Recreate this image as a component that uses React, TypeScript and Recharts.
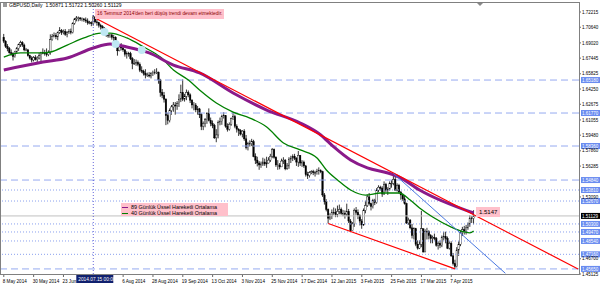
import React from 'react';
import {
    ComposedChart,
    Bar,
    Line,
    XAxis,
    YAxis,
    ReferenceLine,
    ReferenceDot,
} from 'recharts';

// daily GBPUSD bars (open = previous close)
const firstOpen = 1.6960;
const closes = [
    1.6920, 1.6865, 1.6845, 1.6800, 1.6790, 1.6760, 1.6810, 1.6845, 1.6885, 1.6905,
    1.6880, 1.6830, 1.6830, 1.6770, 1.6745, 1.6725, 1.6750, 1.6730, 1.6745, 1.6770,
    1.6805, 1.6795, 1.6790, 1.6780, 1.6800, 1.6935, 1.6970, 1.6980, 1.6965, 1.7010,
    1.7030, 1.7010, 1.7020, 1.6990, 1.7010, 1.7020, 1.7010, 1.7105, 1.7150, 1.7160,
    1.7160, 1.7150, 1.7150, 1.7140, 1.7130, 1.7110, 1.7110, 1.7100, 1.7170, 1.7120,
    1.7110, 1.7085, 1.7070, 1.7055, 1.7030, 1.6980, 1.6980, 1.6985, 1.6960, 1.6960,
    1.6880, 1.6820, 1.6860, 1.6850, 1.6830, 1.6785, 1.6790, 1.6790, 1.6740, 1.6690,
    1.6690, 1.6700, 1.6680, 1.6620, 1.6610, 1.6590, 1.6570, 1.6570, 1.6560, 1.6585,
    1.6590, 1.6600, 1.6600, 1.6520, 1.6390, 1.6360, 1.6320, 1.6150, 1.6100, 1.6200,
    1.6240, 1.6260, 1.6250, 1.6275, 1.6320, 1.6390, 1.6320, 1.6350, 1.6390, 1.6365,
    1.6310, 1.6260, 1.6260, 1.6210, 1.6220, 1.6160, 1.6040, 1.6070, 1.6110, 1.6170,
    1.6100, 1.6070, 1.6050, 1.5920, 1.5950, 1.6080, 1.6090, 1.6140, 1.6150, 1.6040,
    1.6010, 1.6060, 1.6120, 1.6140, 1.6040, 1.6010, 1.5995, 1.5960, 1.5990, 1.5910,
    1.5820, 1.5860, 1.5860, 1.5880, 1.5730, 1.5690, 1.5660, 1.5640, 1.5650, 1.5670,
    1.5650, 1.5660, 1.5690, 1.5730, 1.5800, 1.5720, 1.5640, 1.5640, 1.5620, 1.5680,
    1.5690, 1.5600, 1.5630, 1.5700, 1.5710, 1.5730, 1.5710, 1.5670, 1.5740, 1.5660,
    1.5670, 1.5630, 1.5540, 1.5530, 1.5560, 1.5570, 1.5560, 1.5560, 1.5570, 1.5580,
    1.5570, 1.5330, 1.5260, 1.5180, 1.5090, 1.5110, 1.5150, 1.5150, 1.5130, 1.5160,
    1.5180, 1.5140, 1.5140, 1.5130, 1.5160, 1.5060, 1.4960, 1.5030, 1.5170, 1.5150,
    1.5120, 1.5060, 1.5020, 1.5170, 1.5220, 1.5310, 1.5240, 1.5210, 1.5270, 1.5250,
    1.5380, 1.5410, 1.5400, 1.5340, 1.5440, 1.5380, 1.5390, 1.5450, 1.5450, 1.5490,
    1.5380, 1.5430, 1.5360, 1.5330, 1.5290, 1.5240, 1.5040, 1.5070, 1.4990, 1.4910,
    1.4980, 1.4820, 1.4780, 1.4820, 1.4980, 1.4740, 1.4950, 1.4950, 1.4910, 1.4880,
    1.4890, 1.4880, 1.4810, 1.4830, 1.4810, 1.4890, 1.4900, 1.4880, 1.4780, 1.4830,
    1.4700, 1.4620, 1.4590, 1.4760, 1.4820, 1.4940, 1.4970, 1.4950, 1.4990, 1.5030,
    1.5090, 1.5087, 1.5113,
];
const highs = [
    1.6995, 1.6930, 1.6890, 1.6860, 1.6835, 1.6805, 1.6820, 1.6860, 1.6895, 1.6925,
    1.6920, 1.6895, 1.6850, 1.6840, 1.6780, 1.6765, 1.6765, 1.6775, 1.6765, 1.6800,
    1.6810, 1.6845, 1.6830, 1.6845, 1.6825, 1.6990, 1.6995, 1.7010, 1.7005, 1.7020,
    1.7065, 1.7045, 1.7040, 1.7045, 1.7025, 1.7045, 1.7050, 1.7115, 1.7160, 1.7180,
    1.7175, 1.7170, 1.7165, 1.7160, 1.7165, 1.7155, 1.7130, 1.7125, 1.7190, 1.7180,
    1.7145, 1.7120, 1.7100, 1.7085, 1.7065, 1.7040, 1.7000, 1.6995, 1.6995, 1.6985,
    1.6970, 1.6885, 1.6870, 1.6900, 1.6870, 1.6840, 1.6815, 1.6810, 1.6810, 1.6755,
    1.6735, 1.6730, 1.6720, 1.6700, 1.6660, 1.6625, 1.6630, 1.6595, 1.6600, 1.6600,
    1.6615, 1.6630, 1.6640, 1.6605, 1.6530, 1.6425, 1.6395, 1.6330, 1.6180, 1.6225,
    1.6260, 1.6290, 1.6290, 1.6300, 1.6370, 1.6470, 1.6525, 1.6375, 1.6420, 1.6410,
    1.6380, 1.6320, 1.6290, 1.6280, 1.6250, 1.6230, 1.6175, 1.6090, 1.6125, 1.6185,
    1.6225, 1.6130, 1.6100, 1.6065, 1.6010, 1.6100, 1.6130, 1.6160, 1.6185, 1.6155,
    1.6070, 1.6080, 1.6130, 1.6185, 1.6160, 1.6060, 1.6020, 1.6010, 1.6000, 1.6010,
    1.5950, 1.5880, 1.5895, 1.5910, 1.5900, 1.5760, 1.5725, 1.5680, 1.5675, 1.5715,
    1.5705, 1.5725, 1.5720, 1.5755, 1.5815, 1.5810, 1.5730, 1.5690, 1.5660, 1.5705,
    1.5720, 1.5700, 1.5660, 1.5720, 1.5735, 1.5750, 1.5755, 1.5720, 1.5785, 1.5740,
    1.5690, 1.5685, 1.5640, 1.5570, 1.5575, 1.5585, 1.5590, 1.5580, 1.5600, 1.5615,
    1.5595, 1.5580, 1.5350, 1.5285, 1.5190, 1.5140, 1.5180, 1.5200, 1.5190, 1.5220,
    1.5230, 1.5200, 1.5175, 1.5170, 1.5240, 1.5185, 1.5080, 1.5050, 1.5190, 1.5205,
    1.5180, 1.5130, 1.5080, 1.5190, 1.5270, 1.5335, 1.5350, 1.5250, 1.5290, 1.5290,
    1.5400, 1.5430, 1.5425, 1.5420, 1.5470, 1.5455, 1.5410, 1.5470, 1.5485, 1.5552,
    1.5525, 1.5450, 1.5445, 1.5370, 1.5345, 1.5320, 1.5250, 1.5095, 1.5080, 1.5030,
    1.4995, 1.4990, 1.4860, 1.4860, 1.5165, 1.4980, 1.4975, 1.4990, 1.4965, 1.4925,
    1.4910, 1.4930, 1.4895, 1.4850, 1.4860, 1.4910, 1.4950, 1.4950, 1.4900, 1.4850,
    1.4850, 1.4730, 1.4660, 1.4790, 1.4850, 1.4960, 1.5000, 1.5010, 1.5020, 1.5045,
    1.5120, 1.5110, 1.5172,
];
const lows = [
    1.6900, 1.6850, 1.6815, 1.6790, 1.6770, 1.6720, 1.6750, 1.6795, 1.6820, 1.6860,
    1.6860, 1.6815, 1.6815, 1.6760, 1.6730, 1.6700, 1.6710, 1.6720, 1.6705, 1.6730,
    1.6690, 1.6785, 1.6770, 1.6760, 1.6765, 1.6780, 1.6925, 1.6960, 1.6940, 1.6930,
    1.6995, 1.6985, 1.6990, 1.6975, 1.6960, 1.6995, 1.6990, 1.7000, 1.7090, 1.7125,
    1.7125, 1.7130, 1.7125, 1.7120, 1.7110, 1.7090, 1.7095, 1.7075, 1.7080, 1.7105,
    1.7080, 1.7060, 1.7040, 1.7010, 1.7010, 1.6965, 1.6955, 1.6955, 1.6935, 1.6915,
    1.6865, 1.6770, 1.6815, 1.6825, 1.6810, 1.6760, 1.6740, 1.6760, 1.6725, 1.6630,
    1.6675, 1.6665, 1.6660, 1.6600, 1.6590, 1.6565, 1.6535, 1.6550, 1.6545, 1.6535,
    1.6560, 1.6575, 1.6580, 1.6480, 1.6345, 1.6330, 1.6285, 1.6052, 1.6060, 1.6080,
    1.6160, 1.6190, 1.6160, 1.6210, 1.6240, 1.6290, 1.6300, 1.6295, 1.6310, 1.6340,
    1.6280, 1.6225, 1.6205, 1.6185, 1.6160, 1.6125, 1.6000, 1.6000, 1.6030, 1.6065,
    1.6090, 1.6040, 1.6020, 1.5910, 1.5875, 1.5915, 1.6050, 1.6055, 1.6120, 1.6025,
    1.5985, 1.5995, 1.6045, 1.6105, 1.6020, 1.5975, 1.5940, 1.5945, 1.5925, 1.5890,
    1.5800, 1.5790, 1.5830, 1.5835, 1.5720, 1.5650, 1.5625, 1.5590, 1.5610, 1.5630,
    1.5630, 1.5610, 1.5655, 1.5670, 1.5710, 1.5705, 1.5620, 1.5590, 1.5595, 1.5620,
    1.5650, 1.5585, 1.5590, 1.5600, 1.5660, 1.5680, 1.5690, 1.5630, 1.5620, 1.5630,
    1.5620, 1.5610, 1.5520, 1.5495, 1.5510, 1.5545, 1.5535, 1.5520, 1.5540, 1.5540,
    1.5555, 1.5310, 1.5230, 1.5160, 1.5035, 1.5070, 1.5080, 1.5125, 1.5100, 1.5100,
    1.5130, 1.5125, 1.5110, 1.5085, 1.5110, 1.5040, 1.4950, 1.4960, 1.5000, 1.5125,
    1.5080, 1.5015, 1.4980, 1.5010, 1.5140, 1.5205, 1.5220, 1.5170, 1.5190, 1.5225,
    1.5240, 1.5360, 1.5375, 1.5310, 1.5330, 1.5360, 1.5330, 1.5375, 1.5405, 1.5430,
    1.5370, 1.5365, 1.5345, 1.5280, 1.5270, 1.5230, 1.5030, 1.5020, 1.4975, 1.4880,
    1.4870, 1.4800, 1.4765, 1.4770, 1.4790, 1.4735, 1.4740, 1.4870, 1.4870, 1.4830,
    1.4830, 1.4860, 1.4795, 1.4765, 1.4780, 1.4790, 1.4860, 1.4830, 1.4770, 1.4765,
    1.4690, 1.4600, 1.4566, 1.4580, 1.4700, 1.4800, 1.4905, 1.4920, 1.4920, 1.4970,
    1.5000, 1.5040, 1.5026,
];

// moving averages, read at a few bars
const ema89Bars = [0, 21, 34, 48, 57, 66, 78, 91, 105, 123, 141, 159, 170, 177, 186, 195, 206, 212, 223, 252];
const ema89Vals = [1.6622, 1.6704, 1.6746, 1.6849, 1.6891, 1.6860, 1.6798, 1.6673, 1.6591, 1.6384, 1.6208, 1.6074, 1.5950, 1.5826, 1.5691, 1.5609, 1.5557, 1.5515, 1.5381, 1.5143];
const ema40Bars = [0, 9, 21, 25, 34, 43, 52, 57, 66, 75, 84, 91, 99, 105, 114, 123, 132, 141, 150, 159, 168, 173, 179, 186, 194, 202, 212, 218, 223, 230, 240, 247, 250, 252];
const ema40Vals = [1.6756, 1.6798, 1.6798, 1.6808, 1.6880, 1.6953, 1.7004, 1.7004, 1.6953, 1.6860, 1.6756, 1.6622, 1.6518, 1.6415, 1.6281, 1.6187, 1.6125, 1.6032, 1.5867, 1.5795, 1.5712, 1.5588, 1.5484, 1.5381, 1.5329, 1.5350, 1.5350, 1.5277, 1.5195, 1.5102, 1.4998, 1.4947, 1.4937, 1.4957];

// axis ("23 Jun" is cut off by the date tag in the picture)
const xTickBars = [0, 16, 32, 64, 80, 96, 112, 128, 144, 160, 176, 192, 208, 224, 240];
const xTickLabels = ['8 May 2014', '30 May 2014', '23 Jun', '6 Aug 2014', '28 Aug 2014', '19 Sep 2014', '13 Oct 2014', '3 Nov 2014', '25 Nov 2014', '17 Dec 2014', '12 Jan 2015', '3 Feb 2015', '25 Feb 2015', '17 Mar 2015', '7 Apr 2015'];
// price scale (the ones hidden under level tags are left out)
const yTicks = [1.72215, 1.70640, 1.69020, 1.67445, 1.65825, 1.64250, 1.62675, 1.61055, 1.59480, 1.57860, 1.56285, 1.53090, 1.46700, 1.45125];

// horizontal levels
const dashedLevels = [1.6518, 1.6177, 1.5836, 1.5484, 1.4565];
const dottedLevels = [1.5381, 1.5267, 1.5030, 1.4947, 1.4854, 1.4716];
const lastPrice = 1.51129;

const TOTAL = 310; // one blank slot before, empty space after
const yDomain = [1.45125, 1.73146];

const rows = Array.from({ length: TOTAL }, (_, k) => {
    const b = k - 1;
    const row: any = { k };
    if (b >= 0 && b < closes.length) {
        const o = b === 0 ? firstOpen : closes[b - 1];
        row.o = o;
        row.h = highs[b];
        row.l = lows[b];
        row.c = closes[b];
        row.range = [lows[b], highs[b]];
    }
    const i89 = ema89Bars.indexOf(b);
    row.ema89 = i89 >= 0 ? ema89Vals[i89] : null;
    const i40 = ema40Bars.indexOf(b);
    row.ema40 = i40 >= 0 ? ema40Vals[i40] : null;
    return row;
});

const font = '"Liberation Sans", Arial, sans-serif';

function Candle(props: any) {
    const { x, y, width, height, payload } = props;
    if (!payload || payload.c == null) return null;
    const { o, h, l, c } = payload;
    const top = Math.min(y, y + height);
    const span = Math.abs(height);
    const k = h > l ? span / (h - l) : 0;
    const cx = x + width / 2;
    const bTop = top + (h - Math.max(o, c)) * k;
    const bBot = top + (h - Math.min(o, c)) * k;
    const up = c >= o;
    return (
        <g>
            <line x1={cx} x2={cx} y1={top} y2={top + span} stroke="#000" strokeWidth={0.8} />
            <rect
                x={cx - 0.75}
                y={bTop}
                width={1.5}
                height={Math.max(bBot - bTop, 0.6)}
                fill={up ? '#fff' : '#000'}
                stroke="#000"
                strokeWidth={0.4}
            />
        </g>
    );
}

function XTick(props: any) {
    const { x, y, payload } = props;
    const idx = xTickBars.indexOf(payload.value - 1);
    if (idx < 0) return null;
    return (
        <g>
            <line x1={x} x2={x} y1={274} y2={277} stroke="#000" strokeWidth={0.6} />
            <text x={x - 1} y={y + 7} fontSize={4.6} fontFamily={font} fill="#000">
                {xTickLabels[idx]}
            </text>
        </g>
    );
}

function YTick(props: any) {
    const { x, y, payload } = props;
    return (
        <text x={x} y={y + 1.6} fontSize={4.5} fontFamily={font} fill="#000">
            {payload.value.toFixed(5)}
        </text>
    );
}

function PriceTag(props: any) {
    const { viewBox, text, bg, fg } = props;
    if (!viewBox) return null;
    const xx = viewBox.x + viewBox.width + 2;
    const yy = viewBox.y;
    return (
        <g>
            <rect x={xx} y={yy - 3} width={19} height={6} fill={bg} />
            <text x={xx + 1} y={yy + 1.6} fontSize={4.5} fontFamily={font} fill={fg}>
                {text}
            </text>
        </g>
    );
}

function DateTag(props: any) {
    const { viewBox } = props;
    if (!viewBox) return null;
    const xx = viewBox.x - 17;
    const yy = viewBox.y + viewBox.height + 1;
    return (
        <g>
            <rect x={xx} y={yy} width={37} height={8} fill="#10206e" />
            <text x={xx + 2} y={yy + 6} fontSize={4.8} fontFamily={font} fill="#fff">
                2014.07.15 00:00
            </text>
        </g>
    );
}

export default function App() {
    return (
        <div style={{ position: 'absolute', left: 0, top: 0, width: 600, height: 285, background: '#fff', overflow: 'hidden' }}>
            <ComposedChart
                width={600}
                height={285}
                data={rows}
                margin={{ top: 3, right: 0, bottom: 0, left: 1 }}
                barGap={0}
            >
                <XAxis
                    dataKey="k"
                    type="category"
                    ticks={xTickBars.map((b) => b + 1)}
                    interval={0}
                    height={11}
                    tickLine={false}
                    axisLine={false}
                    tickSize={0}
                    tick={<XTick />}
                />
                <YAxis
                    orientation="right"
                    type="number"
                    domain={yDomain}
                    ticks={yTicks}
                    interval={0}
                    allowDataOverflow
                    width={21}
                    axisLine={false}
                    tickSize={2}
                    tickMargin={1}
                    tickLine={{ stroke: '#000', strokeWidth: 0.6 }}
                    tick={<YTick />}
                />
                {dashedLevels.map((v) => (
                    <ReferenceLine
                        key={'d' + v}
                        y={v}
                        stroke="#96aaf0"
                        strokeWidth={1}
                        strokeDasharray="7 4"
                        label={<PriceTag text={v.toFixed(5)} bg="#6a8cf0" fg="#fff" />}
                    />
                ))}
                {dottedLevels.map((v) => (
                    <ReferenceLine
                        key={'p' + v}
                        y={v}
                        stroke="#8aa0ee"
                        strokeWidth={1}
                        strokeDasharray="1 2"
                        label={<PriceTag text={v.toFixed(5)} bg="#6a8cf0" fg="#fff" />}
                    />
                ))}
                <ReferenceLine
                    y={lastPrice}
                    stroke="#c0c0c0"
                    strokeWidth={1}
                    label={<PriceTag text={lastPrice.toFixed(5)} bg="#000" fg="#fff" />}
                />
                <ReferenceLine x={49} stroke="#4040d0" strokeWidth={0.8} strokeDasharray="1 2" label={<DateTag />} />
                <ReferenceDot x={55} y={1.7015} r={4} fill="#bfe8f4" stroke="none" />
                <ReferenceDot x={61} y={1.6891} r={4} fill="#bfe8f4" stroke="none" />
                <ReferenceDot x={75} y={1.6829} r={4} fill="#bfe8f4" stroke="none" />
                <Bar dataKey="range" shape={<Candle />} barSize={2} isAnimationActive={false} />
                <Line
                    dataKey="ema40"
                    type="monotone"
                    stroke="#008000"
                    strokeWidth={1.3}
                    dot={false}
                    connectNulls
                    isAnimationActive={false}
                />
                <Line
                    dataKey="ema89"
                    type="monotone"
                    stroke="#8a1a8a"
                    strokeWidth={3}
                    dot={false}
                    connectNulls
                    isAnimationActive={false}
                />
                <ReferenceLine
                    segment={[{ x: 50, y: 1.7160 }, { x: 309, y: 1.4564 }]}
                    stroke="#ff0000"
                    strokeWidth={1.2}
                />
                <ReferenceLine
                    segment={[{ x: 175, y: 1.5035 }, { x: 243, y: 1.4566 }]}
                    stroke="#ff0000"
                    strokeWidth={1.2}
                />
                <ReferenceLine
                    segment={[{ x: 210, y: 1.5552 }, { x: 270, y: 1.4520 }]}
                    stroke="#4a78e0"
                    strokeWidth={1}
                />
            </ComposedChart>

            {/* plot frame */}
            <div style={{ position: 'absolute', left: 0, top: 2, width: 578, height: 271, border: '1px solid #808080', pointerEvents: 'none' }} />

            {/* title */}
            <div style={{ position: 'absolute', left: 3, top: 3, width: 4, height: 4, background: '#999' }} />
            <div style={{ position: 'absolute', left: 9, top: 2, fontSize: 5, fontFamily: font, color: '#000', whiteSpace: 'nowrap', lineHeight: '7px' }}>
                GBPUSD,Daily&nbsp;&nbsp;1.50871 1.51722 1.50260 1.51129
            </div>
            <div style={{ position: 'absolute', left: 477, top: 3, width: 0, height: 0, borderLeft: '3px solid transparent', borderRight: '3px solid transparent', borderTop: '3px solid #888' }} />

            {/* annotation */}
            <div style={{ position: 'absolute', left: 95, top: 9, height: 10, padding: '0 2px', background: '#ffc0cb', fontSize: 4.9, fontFamily: font, color: '#8b0000', whiteSpace: 'nowrap', lineHeight: '10px' }}>
                16 Temmuz 2014'den beri düşüş trendi devam etmektedir.
            </div>

            {/* legend */}
            <div style={{ position: 'absolute', left: 121, top: 203, width: 107, height: 13, background: '#ffc0cb', fontFamily: font, fontSize: 5.4, color: '#000', lineHeight: '6px' }}>
                <div style={{ display: 'flex', alignItems: 'center', marginTop: 1 }}>
                    <span style={{ display: 'inline-block', width: 6, height: 1, background: '#8a1a8a', margin: '0 3px 0 1px' }} />
                    89 Günlük Üssel Hareketli Ortalama
                </div>
                <div style={{ display: 'flex', alignItems: 'center' }}>
                    <span style={{ display: 'inline-block', width: 6, height: 1, background: '#008000', margin: '0 3px 0 1px' }} />
                    40 Günlük Üssel Hareketli Ortalama
                </div>
            </div>

            {/* EMA value tag */}
            <div style={{ position: 'absolute', left: 476, top: 207, height: 10, padding: '0 3px', background: '#ffc0cb', fontFamily: font, fontSize: 6, color: '#000', lineHeight: '10px' }}>
                1.5147
            </div>
        </div>
    );
}
